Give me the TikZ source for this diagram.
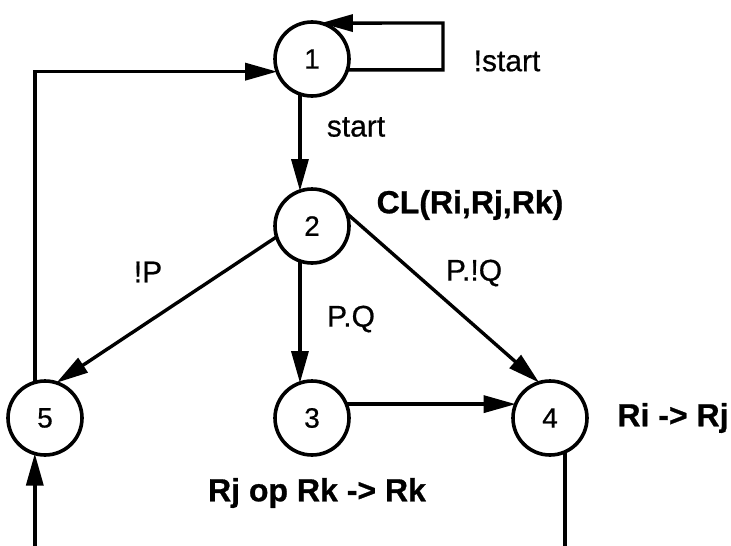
\documentclass[tikz,border=0pt]{standalone}
\usepackage{fontspec}
\setmainfont{Liberation Sans}
\newfontfamily\lblfont{Liberation Sans}[FakeBold=0.6]
\newfontfamily\blblfont{Liberation Sans Bold}[FakeBold=0.8]
\usetikzlibrary{arrows.meta,calc}
\begin{document}
\begin{tikzpicture}[x=1pt,y=-1pt,
  state/.style={circle,draw,line width=3.6pt,minimum size=74pt,inner sep=0pt,outer sep=0pt,font=\lblfont\fontsize{28}{30}\selectfont},
  conn/.style={line width=3.4pt,-{Triangle[length=32pt,width=17pt]}},
  plainline/.style={line width=3.4pt},
  lbl/.style={font=\lblfont\fontsize{30}{32}\selectfont,inner sep=0pt},
  blbl/.style={font=\blblfont\fontsize{32}{34}\selectfont,inner sep=0pt}]
\useasboundingbox (0,0) rectangle (731,546);
\node[state] (n1) at (312,59) {1};
\node[state] (n2) at (312,226) {2};
\node[state] (n3) at (312,418) {3};
\node[state] (n4) at (550,418) {4};
\node[state] (n5) at (45,418) {5};
\coordinate (lr) at (443,23);
\coordinate (bl) at (35,546);
\coordinate (br) at (565,546);
% self loop
\draw[conn] (n1.-17) -| (lr) -- (n1.76);
% 5 -> 1
\draw[conn] (n5.106) |- (n1.200);
% 1 -> 2, 2 -> 3
\draw[conn] (n1.-109) -- (n2.109);
\draw[conn] (n2.-109) -- (n3.109);
% 2 -> 5, 2 -> 4
\draw[conn] (n2.197) -- (n5.72);
\draw[conn] (n2.20) -- (n4.107);
% 3 -> 4
\draw[conn] (n3.22) -- (n4.158);
% bottom
\draw[conn] (n5.-106 |- bl) -- (n5.-106);
\draw[plainline] (n4.-66) -- (n4.-66 |- br);
% labels
\node[lbl] (t1) at (507,61) {!start};
\node[lbl] (t2) at (356,127) {start};
\node[blbl] (t3) at (470,205) {CL(Ri,Rj,Rk)};
\node[lbl] (t4) at (148,272) {!P};
\node[lbl] (t5) at (351,319) {P.Q};
\node[lbl] (t6) at (474,273) {P.!Q};
\node[blbl] (t7) at (673,418) {Ri -> Rj};
\node[blbl] (t8) at (317,493) {Rj op Rk -> Rk};
\end{tikzpicture}
\end{document}
